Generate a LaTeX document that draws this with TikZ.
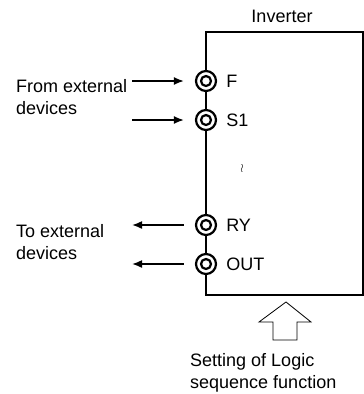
\documentclass[tikz,border=0pt]{standalone}
\usepackage{fontspec}
\setmainfont{Liberation Sans}
\usetikzlibrary{arrows.meta,positioning}
\tikzset{
  terminal/.style={
    shape = circle,
    draw,
    fill = white,
    line width = 2.2pt,
    minimum size = 20pt,
    inner sep = 0pt,
    path picture={\draw[line width=2.2pt] (path picture bounding box.center) circle (5pt);}
  },
  edge/.style={
    line width = 1.8pt,
    line cap = round
  },
  sig/.style={
    line width = 1.6pt,
    -{Latex[length=10pt,width=8pt]}
  },
  every label/.style = {
    inner sep = 0pt
  },
}
\begin{document}
\begin{tikzpicture}[x=1pt,y=-1pt,font=\fontsize{18}{22}\selectfont]
    \useasboundingbox (0,0) rectangle (364,394);
    % inverter outline
    \coordinate (tl) at (206,32);
    \coordinate (tr) at (363,32);
    \coordinate (br) at (363,295);
    \coordinate (bl) at (206,295);
    \foreach \name/\y in {F/81,S1/120,RY/225,OUT/264}{
      \node[terminal,label={[label distance=9pt]right:\name}] (\name) at (206,\y) {};
    }
    \draw[edge] (F) -- (tl) -- (tr) -- (br) -- (bl) -- (OUT);
    \draw[edge] (F) -- (S1);
    \draw[edge] (S1) -- (RY);
    \draw[edge] (RY) -- (OUT);
    \node[anchor=base] (inv) at (282,22) {Inverter};
    \node[font=\fontsize{13}{13}\selectfont] (dots) at (242,168) {$\wr$};
    % signals in and out
    \coordinate (inF) at (132,81);
    \coordinate (inS) at (132,120);
    \coordinate (outR) at (132,225);
    \coordinate (outO) at (132,264);
    \draw[sig,shorten >=11pt] (inF) -- (F);
    \draw[sig,shorten >=11pt] (inS) -- (S1);
    \draw[sig,shorten <=11pt] (RY) -- (outR);
    \draw[sig,shorten <=11pt] (OUT) -- (outO);
    \node[anchor=base west,align=left,inner sep=0pt] (from) at (16,114) {From external\\devices};
    \node[anchor=base west,align=left,inner sep=0pt] (to) at (16,259) {To external\\devices};
    % logic sequence setting
    \draw[line width=0.8pt] (273,340) -- (273,322) -- (259,322) -- (286,302)
      -- (311,322) -- (297,322) -- (297,340) -- cycle;
    \node[anchor=base west,align=left,inner sep=0pt] (logic) at (190,388) {Setting of Logic\\sequence function};
\end{tikzpicture}
\end{document}
